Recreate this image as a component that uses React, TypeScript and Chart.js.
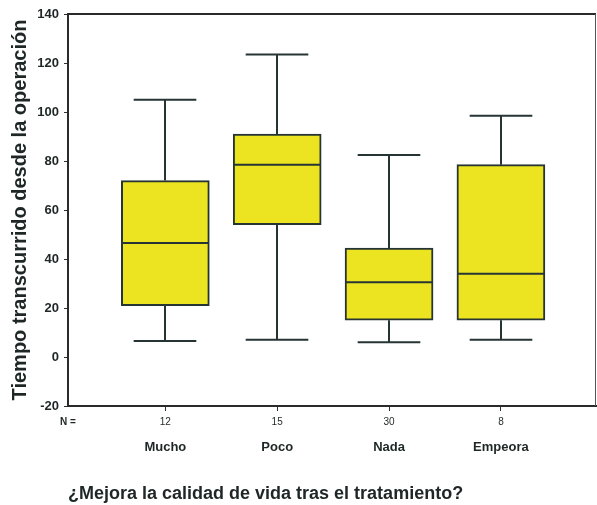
import { useEffect, useRef } from "react";
import { Chart, registerables } from "chart.js";

Chart.register(...registerables);

// Groups and their sample sizes
const categories = ["Mucho", "Poco", "Nada", "Empeora"];
const counts = [12, 15, 30, 8];

// Five-number summaries per group (months since surgery)
const whiskerLow = [6.5, 7, 6, 7];
const q1 = [21, 54, 15, 15];
const median = [46.5, 78.5, 30.5, 34];
const q3 = [72, 91, 44.5, 78.5];
const whiskerHigh = [105, 123.5, 82.5, 98.5];

// y-axis range
const yMin = -20;
const yMax = 140;
const yStep = 20;

const positions = categories.map((_, i) => i + 1);

const FONT = "'Liberation Sans', Arial, sans-serif";
const INK = "#1e2626";
const LINE = "#263434";
const FILL = "#ece421";

const boxPlugin = {
  id: "boxParts",
  afterDatasetsDraw(chart: any) {
    const { ctx, scales, chartArea } = chart;
    const xs = scales.x;
    const ys = scales.y;
    const unit = xs.getPixelForValue(2) - xs.getPixelForValue(1);
    const capHalf = unit * 0.28;
    const boxHalf = unit * 0.39;
    ctx.save();
    ctx.strokeStyle = LINE;
    ctx.lineWidth = 2;
    positions.forEach((p, i) => {
      const cx = Math.round(xs.getPixelForValue(p));
      const yLo = ys.getPixelForValue(whiskerLow[i]);
      const yHi = ys.getPixelForValue(whiskerHigh[i]);
      const yQ1 = ys.getPixelForValue(q1[i]);
      const yQ3 = ys.getPixelForValue(q3[i]);
      const yMed = ys.getPixelForValue(median[i]);
      ctx.beginPath();
      // whiskers
      ctx.moveTo(cx, yQ3);
      ctx.lineTo(cx, yHi);
      ctx.moveTo(cx, yQ1);
      ctx.lineTo(cx, yLo);
      // caps
      ctx.moveTo(cx - capHalf, yHi);
      ctx.lineTo(cx + capHalf, yHi);
      ctx.moveTo(cx - capHalf, yLo);
      ctx.lineTo(cx + capHalf, yLo);
      // median
      ctx.moveTo(cx - boxHalf, yMed);
      ctx.lineTo(cx + boxHalf, yMed);
      ctx.stroke();
    });

    // plot frame (top and right)
    ctx.beginPath();
    ctx.strokeStyle = "#2a2a2a";
    ctx.lineWidth = 2;
    ctx.moveTo(chartArea.left, chartArea.top);
    ctx.lineTo(chartArea.right, chartArea.top);
    ctx.stroke();
    ctx.beginPath();
    ctx.lineWidth = 1;
    ctx.strokeStyle = "#555";
    ctx.moveTo(chartArea.right - 0.5, chartArea.top);
    ctx.lineTo(chartArea.right - 0.5, chartArea.bottom);
    ctx.stroke();
    ctx.restore();
  },
  afterDraw(chart: any) {
    const { ctx, chartArea } = chart;
    ctx.save();
    ctx.fillStyle = INK;
    ctx.font = `bold 10px ${FONT}`;
    ctx.textAlign = "center";
    ctx.textBaseline = "middle";
    ctx.fillText("N =", chartArea.left, chartArea.bottom + 16);
    ctx.font = `bold 18px ${FONT}`;
    ctx.textAlign = "left";
    ctx.fillText(
      "¿Mejora la calidad de vida tras el tratamiento?",
      chartArea.left,
      494
    );
    ctx.restore();
  },
};

const xBase = {
  type: "linear" as const,
  position: "bottom" as const,
  min: 0.13,
  max: 4.85,
  offset: false,
  afterBuildTicks: (s: any) => {
    s.ticks = positions.map((v) => ({ value: v }));
  },
};

export default function App() {
  const ref = useRef<HTMLCanvasElement>(null);

  useEffect(() => {
    if (!ref.current) return;
    const chart = new Chart(ref.current, {
      type: "bar",
      data: {
        datasets: [
          {
            data: positions.map((p, i) => ({ x: p, y: [q1[i], q3[i]] })) as any,
            backgroundColor: FILL,
            borderColor: LINE,
            borderWidth: 2,
            borderSkipped: false,
            barThickness: 88,
          },
        ],
      },
      options: {
        responsive: false,
        animation: false,
        layout: { padding: { top: 14, right: 1, bottom: 30, left: 0 } },
        plugins: {
          legend: { display: false },
          tooltip: { enabled: false },
        },
        scales: {
          x: {
            ...xBase,
            weight: 1,
            afterFit: (s: any) => {
              s.height = 24;
            },
            ticks: {
              autoSkip: false,
              maxRotation: 0,
              padding: 5,
              color: INK,
              font: { family: FONT, size: 10 },
              callback: (v: any) => String(counts[positions.indexOf(v)] ?? ""),
            },
            grid: {
              drawOnChartArea: false,
              offset: false,
              tickLength: 5,
              color: LINE,
              lineWidth: 1,
            },
            border: { display: true, color: "#2a2a2a", width: 2 },
          },
          x2: {
            ...xBase,
            weight: 2,
            afterFit: (s: any) => {
              s.height = 45;
            },
            ticks: {
              autoSkip: false,
              maxRotation: 0,
              padding: 2,
              color: INK,
              font: { family: FONT, size: 13, weight: "bold" },
              callback: (v: any) => categories[positions.indexOf(v)] ?? "",
            },
            grid: { display: false, offset: false },
            border: { display: false },
          },
          y: {
            min: yMin,
            max: yMax,
            afterFit: (s: any) => {
              s.width = 68;
            },
            ticks: {
              stepSize: yStep,
              padding: 5,
              color: INK,
              font: { family: FONT, size: 13, weight: "bold" },
            },
            grid: {
              drawOnChartArea: false,
              tickLength: 4,
              color: LINE,
              lineWidth: 1,
            },
            border: { display: true, color: "#2a2a2a", width: 2 },
            title: {
              display: true,
              text: "Tiempo transcurrido desde la operación",
              color: INK,
              font: { family: FONT, size: 20, weight: "bold" },
              padding: { top: 8, bottom: 0 },
            },
          },
        },
      },
      plugins: [boxPlugin],
    });
    return () => chart.destroy();
  }, []);

  return (
    <div style={{ position: "fixed", left: 0, top: 0, width: 597, height: 505, background: "#fff" }}>
      <canvas ref={ref} width={597} height={505} />
    </div>
  );
}
